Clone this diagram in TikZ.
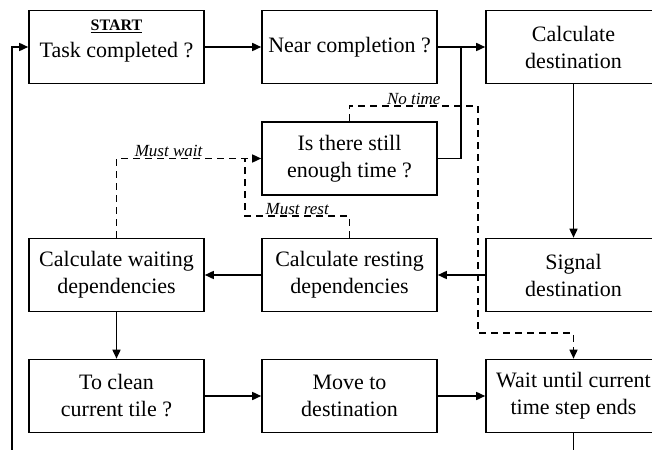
\documentclass[tikz,border=0pt]{standalone}
\usepackage{fontspec}
\setmainfont{Liberation Serif}
\usetikzlibrary{calc,arrows.meta}

\begin{document}
\begin{tikzpicture}[x=1pt, y=-1pt,
	process/.style={draw, line width=1.6pt, minimum height=73pt, minimum width=175pt, inner sep=0pt, align=center, font=\fontsize{22}{27}\selectfont},
	flow/.style={->, line width=1.6pt},
	alt/.style={line width=1.5pt, dash pattern=on 7pt off 5pt},
	cond/.style={font=\fontsize{17}{18}\selectfont\itshape, inner sep=1pt},
	>={Triangle[length=9pt,width=8pt]},
	]

	\useasboundingbox (0,0) rectangle (652,449);
	\clip (0,0) rectangle (652,449);

	\node[process] (task) at (116.5,47) {{\fontsize{16}{16}\selectfont\underline{\textbf{START}}}\\Task completed ?\rule[-16pt]{0pt}{0pt}};
	\node[process, right of=task, node distance=233pt] (near) {Near completion ?};
	\node[process, right of=near, node distance=224pt] (calcdest) {Calculate\\destination};

	\node[process, below of=near, node distance=111.5pt] (enough) {Is there still\\enough time ?};

	\node[process, below of=task, node distance=228pt] (waiting) {Calculate waiting\\dependencies};
	\node[process, below of=enough, node distance=116.5pt] (resting) {Calculate resting\\dependencies};
	\node[process, below of=calcdest, node distance=228pt] (signal) {Signal\\destination};

	\node[process, below of=waiting, node distance=121pt] (clean) {To clean\\current tile ?};
	\node[process, below of=resting, node distance=121pt] (moveto) {Move to\\destination};
	\node[process, below of=signal, node distance=121pt] (waitstep) {Wait until current\\time step ends};

	\coordinate (join) at (461,47);

	\draw[flow] (task) -- (near);
	\draw[flow] (near) -- (calcdest);
	\draw[line width=1.6pt] (enough) -| (join);
	\draw[flow] (calcdest) -- (signal);
	\draw[flow] (signal) -- (resting);
	\draw[flow] (resting) -- (waiting);
	\draw[flow] (waiting) -- (clean);
	\draw[flow] (clean) -- (moveto);
	\draw[flow] (moveto) -- (waitstep);

	% loop back to the start
	\draw[flow] (waitstep.south) -- ++(0,40) -| ([xshift=-16pt]task.west) -- (task.west);

	% dashed branches
	\draw[alt, ->] (enough.north) |- (478,106) node[cond, pos=0.75, above] {No time}
		-- (478,333) -| (waitstep.north);
	\draw[alt, ->] (waiting.north) |- node[cond, pos=0.68, above] {Must wait} (enough.west);
	\draw[alt] (resting.north) |- node[cond, pos=0.75, above] {Must rest} (245,216) -- (245,158.5);

\end{tikzpicture}
\end{document}
